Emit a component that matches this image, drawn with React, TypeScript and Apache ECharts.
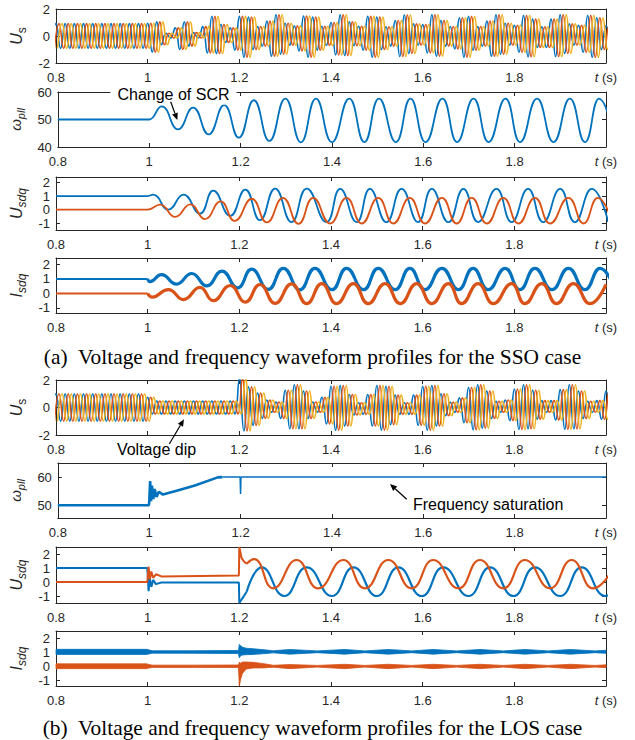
import React, { useEffect, useRef } from "react";
import * as echarts from "echarts";

const BLUE = "#0072BD";
const ORANGE = "#D95319";
const YELLOW = "#EDB120";
const AX = "#262626";
const FONT = "Liberation Sans, Arial, sans-serif";

const xTicks = [0.8, 1, 1.2, 1.4, 1.6, 1.8, 2];
// in (b) the "1" label is hidden under the "Voltage dip" note
const xLabelsUsB = [0.8, 1.2, 1.4, 1.6, 1.8, 2];

// three-phase voltage: half-cycle peak magnitudes (every 0.01 s from 0.80 to 2.00 s)
const usAEnvelope = [
  0.92, 0.92, 0.92, 0.92, 0.92, 0.92, 0.92, 0.92, 0.92, 0.92,
  0.92, 0.92, 0.92, 0.92, 0.92, 0.92, 0.92, 0.92, 0.92, 0.92,
  0.95, 1.2, 1.05, 0.65, 0.2, 0.15, 0.6, 1.0, 1.05, 0.75,
  0.25, 0.15, 0.7, 1.25, 1.45, 1.3, 0.85, 0.48, 0.6, 1.05,
  1.45, 1.58, 1.4, 1.0, 0.7, 0.75, 1.1, 1.5, 1.57, 1.35,
  0.95, 0.68, 0.75, 1.1, 1.48, 1.57, 1.4, 1.05, 0.72, 0.7,
  1.0, 1.4, 1.57, 1.45, 1.05, 0.72, 0.72, 1.05, 1.45, 1.57,
  1.4, 1.0, 0.68, 0.75, 1.15, 1.52, 1.55, 1.3, 0.9, 0.68,
  0.85, 1.25, 1.57, 1.5, 1.15, 0.75, 0.7, 0.95, 1.35, 1.57,
  1.45, 1.05, 0.7, 0.75, 1.1, 1.5, 1.57, 1.35, 0.95, 0.68,
  0.8, 1.2, 1.52, 1.55, 1.25, 0.85, 0.68, 0.85, 1.25, 1.52,
  1.57, 1.3, 0.9, 0.68, 0.8, 1.2, 1.52, 1.57, 1.35, 1.0,
  0.75,
];
const usBEnvelope = [
  1.0, 1.0, 1.0, 1.0, 1.0, 1.0, 1.0, 1.0, 1.0, 1.0,
  1.0, 1.0, 1.0, 1.0, 1.0, 1.0, 1.0, 1.0, 1.0, 1.0,
  0.75, 0.47, 0.47, 0.47, 0.47, 0.47, 0.47, 0.47, 0.47, 0.47,
  0.47, 0.47, 0.47, 0.47, 0.47, 0.47, 0.47, 0.47, 0.47, 0.47,
  2.1, 1.7, 1.5, 1.3, 1.05, 0.8, 0.55, 0.35, 0.4, 0.8,
  1.25, 1.55, 1.65, 1.55, 1.2, 0.8, 0.4, 0.35, 0.75, 1.2,
  1.55, 1.65, 1.6, 1.35, 0.95, 0.55, 0.35, 0.5, 0.95, 1.35,
  1.6, 1.65, 1.55, 1.25, 0.9, 0.5, 0.35, 0.5, 0.9, 1.3,
  1.55, 1.65, 1.6, 1.35, 1.0, 0.6, 0.38, 0.35, 0.7, 1.1,
  1.45, 1.62, 1.65, 1.5, 1.2, 0.8, 0.45, 0.35, 0.55, 0.95,
  1.35, 1.6, 1.65, 1.55, 1.25, 0.85, 0.5, 0.35, 0.5, 0.9,
  1.3, 1.58, 1.65, 1.55, 1.2, 0.8, 0.45, 0.35, 0.5, 0.85,
  1.2,
];
const usStart = 0.8;
const usHalfCycle = 0.01;
const usPhaseLag = 0.02 / 3;

// (a) PLL frequency: [t, value] turning points
const wpllA = [
  [0.8, 50], [0.99, 50], [1.0, 50], [1.027, 54.8], [1.063, 46.4], [1.096, 54.3], [1.13, 44.6],
  [1.164, 55.2], [1.196, 43.4], [1.229, 57], [1.263, 42.2], [1.298, 57.6], [1.332, 41.7],
  [1.365, 57.6], [1.4, 41.8], [1.438, 57.6], [1.471, 41.8], [1.503, 57.6], [1.54, 41.8],
  [1.572, 57.6], [1.605, 41.8], [1.642, 57.6], [1.674, 41.8], [1.71, 57.6], [1.743, 41.8],
  [1.78, 57.6], [1.812, 41.8], [1.849, 57.6], [1.885, 41.8], [1.921, 57.6], [1.954, 41.8],
  [1.985, 57.6], [2.02, 41.8],
];
// (a) Usdq
const usdA_d = [
  [0.8, 1], [0.99, 1], [1.0, 1.0], [1.012, 1.1], [1.045, 0.0], [1.078, 1.1], [1.114, -0.3],
  [1.143, 1.4], [1.18, -0.46], [1.213, 1.47], [1.245, -0.78], [1.278, 1.55], [1.314, -0.92],
  [1.347, 1.55], [1.39, -0.92], [1.42, 1.52], [1.456, -0.92], [1.485, 1.52], [1.521, -0.92],
  [1.554, 1.52], [1.59, -0.92], [1.62, 1.52], [1.656, -0.92], [1.689, 1.52], [1.721, -0.92],
  [1.761, 1.52], [1.794, -0.92], [1.83, 1.52], [1.863, -0.92], [1.9, 1.52], [1.932, -0.92],
  [1.969, 1.52], [2.005, -0.92],
];
const usdA_q = [
  [0.8, 0], [0.99, 0], [1.0, 0], [1.027, 0.36], [1.06, -0.54], [1.093, 0.38], [1.125, -0.7],
  [1.159, 0.6], [1.19, -0.83], [1.227, 0.8], [1.26, -0.94], [1.295, 0.87], [1.329, -1.05],
  [1.361, 0.87], [1.398, -1.02], [1.434, 0.87], [1.467, -1.02], [1.503, 0.87], [1.536, -1.02],
  [1.572, 0.87], [1.605, -1.02], [1.642, 0.87], [1.674, -1.02], [1.707, 0.87], [1.74, -1.02],
  [1.776, 0.87], [1.809, -1.02], [1.845, 0.87], [1.878, -1.02], [1.918, 0.87], [1.951, -1.02],
  [1.982, 0.87], [2.015, -1.02],
];
// (a) Isdq
const isdA_dPre = [[0.8, 1.0], [1.0, 1.0]];
const isdA_d = [
  [1.0, 1.0], [1.005, 0.82], [1.03, 1.3], [1.063, 0.65], [1.096, 1.38], [1.129, 0.52],
  [1.162, 1.55], [1.196, 0.38], [1.227, 1.68], [1.263, 0.28], [1.296, 1.74], [1.332, 0.25],
  [1.365, 1.74], [1.402, 0.26], [1.434, 1.74], [1.471, 0.26], [1.503, 1.74], [1.54, 0.26],
  [1.572, 1.74], [1.605, 0.26], [1.642, 1.74], [1.678, 0.26], [1.71, 1.74], [1.743, 0.26],
  [1.78, 1.74], [1.812, 0.26], [1.845, 1.74], [1.882, 0.26], [1.918, 1.74], [1.954, 0.26],
  [1.987, 1.74], [2.02, 0.26],
];
const isdA_qPre = [[0.8, 0.0], [1.0, 0.0]];
const isdA_q = [
  [1.0, 0.0], [1.01, -0.25], [1.045, 0.27], [1.078, -0.42], [1.114, 0.42], [1.143, -0.5],
  [1.18, 0.55], [1.213, -0.6], [1.245, 0.62], [1.278, -0.68], [1.314, 0.66], [1.347, -0.7],
  [1.38, 0.68], [1.412, -0.7], [1.449, 0.68], [1.481, -0.7], [1.518, 0.68], [1.551, -0.7],
  [1.587, 0.68], [1.62, -0.7], [1.656, 0.68], [1.685, -0.7], [1.721, 0.68], [1.754, -0.7],
  [1.794, 0.68], [1.823, -0.7], [1.86, 0.68], [1.892, -0.7], [1.929, 0.68], [1.965, -0.7],
  [2.0, 0.62],
];

// (b) PLL frequency
const wpllBNoisy = [
  [0.8, 50], [0.999, 50], [1.0, 51], [1.002, 58.6], [1.004, 51.5], [1.006, 57], [1.009, 52.2],
  [1.012, 55.8], [1.016, 53], [1.021, 54.8], [1.03, 53.8], [1.06, 55.2], [1.1, 57.0],
  [1.15, 59.9], [1.16, 60],
];
const wpllBFlat = [[1.16, 60], [1.199, 60], [1.2, 54], [1.2008, 60], [2.0, 60]];

// (b) Usdq: transients (straight) and oscillation (turning points)
const usdB_dStep = [
  [0.8, 1.0], [0.999, 1.0], [1.0, 0.6], [1.002, -0.65], [1.005, 0.25], [1.008, -0.35],
  [1.012, 0.15], [1.018, -0.15], [1.03, -0.03], [1.199, -0.03], [1.2, -1.5], [1.208, -1.1],
  [1.216, -0.7],
];
const usdB_dOsc = [
  [1.216, -0.7], [1.249, 1.04], [1.298, -1.0], [1.347, 1.04], [1.402, -1.0], [1.449, 1.04],
  [1.5, -1.0], [1.547, 1.04], [1.598, -1.0], [1.645, 1.04], [1.7, -1.0], [1.747, 1.04],
  [1.798, -1.0], [1.845, 1.04], [1.9, -1.0], [1.947, 1.04], [1.998, -1.0], [2.05, 1.04],
];
const usdB_qStep = [
  [0.8, 0.0], [0.999, 0.0], [1.0, 0.3], [1.002, 1.1], [1.005, 0.2], [1.008, 0.75],
  [1.012, 0.3], [1.018, 0.55], [1.03, 0.4], [1.199, 0.47], [1.2, 2.5], [1.205, 1.7],
  [1.21, 1.47], [1.216, 1.3],
];
const usdB_qOsc = [
  [1.216, 1.3], [1.232, 1.64], [1.274, -0.45], [1.325, 1.57], [1.372, -0.45], [1.427, 1.57],
  [1.474, -0.45], [1.525, 1.57], [1.576, -0.45], [1.623, 1.57], [1.678, -0.45], [1.725, 1.57],
  [1.776, -0.45], [1.823, 1.57], [1.878, -0.45], [1.925, 1.57], [1.972, -0.45], [2.025, 1.57],
];

// (b) Isdq: noisy bands, lower / upper edges
const isdBTimes = [
  0.8, 0.998, 1.0, 1.01, 1.1, 1.198, 1.2, 1.203, 1.207, 1.215, 1.23, 1.25, 1.274, 1.31,
  1.37, 1.43, 1.474, 1.525, 1.576, 1.623, 1.674, 1.725, 1.776, 1.823, 1.874, 1.922, 1.976, 2.0,
];
const isdB_dLo = [
  0.84, 0.84, 0.85, 0.93, 0.92, 0.9, 0.6, 0.75, 0.8, 0.82, 0.84, 0.88, 0.95, 0.86,
  0.96, 0.86, 0.96, 0.86, 0.96, 0.86, 0.96, 0.86, 0.96, 0.86, 0.96, 0.86, 0.96, 0.92,
];
const isdB_dHi = [
  1.2, 1.2, 1.18, 1.1, 1.1, 1.12, 1.55, 1.45, 1.35, 1.28, 1.24, 1.18, 1.1, 1.19,
  1.09, 1.19, 1.09, 1.19, 1.09, 1.19, 1.09, 1.19, 1.09, 1.19, 1.09, 1.19, 1.09, 1.13,
];
const isdB_qLo = [
  -0.17, -0.17, -0.15, -0.08, -0.08, -0.09, -1.4, -0.9, -0.5, -0.2, -0.12, -0.12, -0.07, -0.17,
  -0.06, -0.17, -0.06, -0.17, -0.06, -0.17, -0.06, -0.17, -0.06, -0.17, -0.06, -0.17, -0.06, -0.1,
];
const isdB_qHi = [
  0.17, 0.17, 0.15, 0.08, 0.08, 0.09, 0.28, 0.22, 0.3, 0.3, 0.28, 0.2, 0.07, 0.12,
  0.06, 0.14, 0.06, 0.14, 0.06, 0.14, 0.06, 0.14, 0.06, 0.14, 0.06, 0.14, 0.06, 0.1,
];

const captionA = "(a)  Voltage and frequency waveform profiles for the SSO case";
const captionB = "(b)  Voltage and frequency waveform profiles for the LOS case";

const NAME_US = "{m|U}{s|s}";
const NAME_W = "{w|ω}{p|pll}";
const NAME_U = "{m|U}{q|sdq}";
const NAME_I = "{m|I}{q|sdq}";

type Panel = { top: number; height: number; min: number; max: number; ticks: number[]; name: string; gap: number; xLabels: number[] };

const panels: Panel[] = [
  { top: 9, height: 54, min: -2, max: 2, ticks: [-2, 0, 2], name: NAME_US, gap: 22, xLabels: xTicks },
  { top: 92, height: 55, min: 40, max: 60, ticks: [40, 50, 60], name: NAME_W, gap: 24, xLabels: xTicks },
  { top: 177, height: 53, min: -1.5, max: 2.4, ticks: [-1, 0, 1, 2], name: NAME_U, gap: 25, xLabels: xTicks },
  { top: 258, height: 55, min: -1.35, max: 2.45, ticks: [-1, 0, 1, 2], name: NAME_I, gap: 25, xLabels: xTicks },
  { top: 380, height: 55, min: -2, max: 2, ticks: [-2, 0, 2], name: NAME_US, gap: 22, xLabels: xLabelsUsB },
  { top: 463, height: 55, min: 45.5, max: 65, ticks: [50, 60], name: NAME_W, gap: 26, xLabels: xTicks },
  { top: 547, height: 56, min: -1.5, max: 2.5, ticks: [-1, 0, 1, 2], name: NAME_U, gap: 25, xLabels: xTicks },
  { top: 631, height: 55, min: -1.4, max: 2.5, ticks: [-1, 0, 1, 2], name: NAME_I, gap: 25, xLabels: xTicks },
];

function threePhase(env: number[], p: number) {
  const pts: number[][] = [];
  for (let k = -1; k <= env.length; k++) {
    const e = env[Math.max(0, Math.min(env.length - 1, k))];
    const s = (k + 2) % 2 === 0 ? 1 : -1;
    pts.push([usStart + k * usHalfCycle + p * usPhaseLag, s * e]);
  }
  return pts;
}

function line(panel: number, data: number[][], color: string, width: number, smooth: boolean | number = false) {
  return {
    type: "line",
    xAxisIndex: 2 * panel,
    yAxisIndex: 2 * panel,
    data,
    symbol: "none",
    showSymbol: false,
    smooth,
    silent: true,
    lineStyle: { color, width },
    itemStyle: { color },
  };
}

function band(panel: number, times: number[], lo: number[], hi: number[], color: string) {
  return {
    type: "custom",
    xAxisIndex: 2 * panel,
    yAxisIndex: 2 * panel,
    silent: true,
    data: times.map((t, i) => [t, lo[i], hi[i]]),
    encode: { x: 0, y: [1, 2] },
    renderItem: (params: any, api: any) => {
      if (params.dataIndex !== 0) return null;
      const up = times.map((t, i) => api.coord([t, hi[i]]));
      const dn = times.map((t, i) => api.coord([t, lo[i]])).reverse();
      return { type: "polygon", shape: { points: up.concat(dn) }, style: { fill: color, stroke: color, lineWidth: 0.8 } };
    },
  };
}

function arrow(x1: number, y1: number, x2: number, y2: number) {
  const dx = x2 - x1, dy = y2 - y1;
  const len = Math.sqrt(dx * dx + dy * dy);
  const ux = dx / len, uy = dy / len;
  const bx = x2 - 7 * ux, by = y2 - 7 * uy;
  const px = -uy * 3, py = ux * 3;
  return [
    { type: "line", z: 100, shape: { x1, y1, x2: bx, y2: by }, style: { stroke: "#000", lineWidth: 1.2 } },
    { type: "polygon", z: 100, shape: { points: [[x2, y2], [bx + px, by + py], [bx - px, by - py]] }, style: { fill: "#000" } },
  ];
}

export default function App() {
  const ref = useRef<HTMLDivElement>(null);
  useEffect(() => {
    document.body.style.margin = "0";
    if (!ref.current) return;
    const chart = echarts.init(ref.current, undefined, { renderer: "svg" });

    const grid: any[] = [];
    const xAxis: any[] = [];
    const yAxis: any[] = [];
    panels.forEach((p, i) => {
      grid.push({ left: 56, width: 550, top: p.top, height: p.height });
      const axLine = { show: true, onZero: false, lineStyle: { color: AX, width: 1 } };
      xAxis.push({
        type: "value", gridIndex: i, min: 0.8, max: 2, position: "bottom",
        axisLine: axLine, splitLine: { show: false },
        axisTick: { inside: true, length: 4, customValues: xTicks, lineStyle: { color: AX } },
        axisLabel: {
          customValues: p.xLabels, color: AX, fontSize: 13, fontFamily: FONT, margin: 8,
          formatter: (v: number) => (v === 2 ? "{i|t} (s)" : String(v)),
          rich: { i: { fontStyle: "italic", fontSize: 13, fontFamily: FONT, color: AX } },
        },
      });
      xAxis.push({
        type: "value", gridIndex: i, min: 0.8, max: 2, position: "top",
        axisLine: axLine, splitLine: { show: false },
        axisTick: { inside: true, length: 4, customValues: xTicks, lineStyle: { color: AX } },
        axisLabel: { show: false },
      });
      yAxis.push({
        type: "value", gridIndex: i, min: p.min, max: p.max, position: "left",
        axisLine: axLine, splitLine: { show: false },
        axisTick: { inside: true, length: 4, customValues: p.ticks, lineStyle: { color: AX } },
        axisLabel: { customValues: p.ticks, color: AX, fontSize: 13, fontFamily: FONT, margin: 6 },
        name: p.name, nameLocation: "middle", nameRotate: 90, nameGap: p.gap,
        nameTextStyle: {
          color: AX, fontFamily: FONT,
          rich: {
            m: { fontSize: 16, fontStyle: "italic", lineHeight: 22, color: AX, fontFamily: FONT },
            s: { fontSize: 12, verticalAlign: "bottom", color: AX, fontFamily: FONT },
            q: { fontSize: 12, fontStyle: "italic", verticalAlign: "bottom", color: AX, fontFamily: FONT },
            w: { fontSize: 15, fontStyle: "italic", lineHeight: 22, color: AX, fontFamily: FONT },
            p: { fontSize: 11, fontStyle: "italic", verticalAlign: "bottom", color: AX, fontFamily: FONT },
          },
        },
      });
      yAxis.push({
        type: "value", gridIndex: i, min: p.min, max: p.max, position: "right",
        axisLine: axLine, splitLine: { show: false },
        axisTick: { inside: true, length: 4, customValues: p.ticks, lineStyle: { color: AX } },
        axisLabel: { show: false },
      });
    });

    const phaseColors = [BLUE, ORANGE, YELLOW];
    const series: any[] = [];
    phaseColors.forEach((c, p) => series.push(line(0, threePhase(usAEnvelope, p), c, 1.6, 0.5)));
    series.push(line(1, wpllA, BLUE, 1.8, 0.5));
    series.push(line(2, usdA_d, BLUE, 1.8, 0.5));
    series.push(line(2, usdA_q, ORANGE, 1.8, 0.5));
    series.push(line(3, isdA_dPre, BLUE, 2));
    series.push(line(3, isdA_d, BLUE, 3.2, 0.5));
    series.push(line(3, isdA_qPre, ORANGE, 2));
    series.push(line(3, isdA_q, ORANGE, 3.2, 0.5));
    phaseColors.forEach((c, p) => series.push(line(4, threePhase(usBEnvelope, p), c, 1.6, 0.5)));
    series.push(line(5, wpllBNoisy, BLUE, 2.6));
    series.push(line(5, wpllBFlat, BLUE, 1.5));
    series.push(line(6, usdB_dStep, BLUE, 2));
    series.push(line(6, usdB_dOsc, BLUE, 2.2, 0.5));
    series.push(line(6, usdB_qStep, ORANGE, 2));
    series.push(line(6, usdB_qOsc, ORANGE, 2.2, 0.5));
    series.push(band(7, isdBTimes, isdB_dLo, isdB_dHi, BLUE));
    series.push(band(7, isdBTimes, isdB_qLo, isdB_qHi, ORANGE));

    const annFont = { fontSize: 16, fontFamily: FONT, fill: "#000" };
    const serif = "Liberation Serif, Times New Roman, serif";
    const graphic: any[] = [
      { type: "text", z: 100, x: 173.5, y: 94.5, style: { ...annFont, text: "Change of SCR", align: "center", verticalAlign: "middle", backgroundColor: "#fff", padding: [2, 7] } },
      ...arrow(170.7, 101.7, 177.3, 120),
      { type: "text", z: 100, x: 156.5, y: 449.5, style: { ...annFont, text: "Voltage dip", align: "center", verticalAlign: "middle", backgroundColor: "#fff", padding: [1, 3] } },
      ...arrow(169.3, 444, 184, 419.3),
      { type: "text", z: 100, x: 413, y: 504, style: { ...annFont, text: "Frequency saturation", align: "left", verticalAlign: "middle" } },
      ...arrow(406.7, 499.3, 390, 484),
      { type: "text", z: 100, x: 312.5, y: 357, style: { text: captionA, fontSize: 21.4, fontFamily: serif, fill: "#000", align: "center", verticalAlign: "middle" } },
      { type: "text", z: 100, x: 312.5, y: 727.5, style: { text: captionB, fontSize: 21.4, fontFamily: serif, fill: "#000", align: "center", verticalAlign: "middle" } },
    ];

    chart.setOption({
      animation: false,
      backgroundColor: "#fff",
      textStyle: { fontFamily: FONT },
      grid,
      xAxis,
      yAxis,
      series,
      graphic,
    });
    return () => chart.dispose();
  }, []);
  return <div ref={ref} style={{ width: 635, height: 740 }} />;
}
